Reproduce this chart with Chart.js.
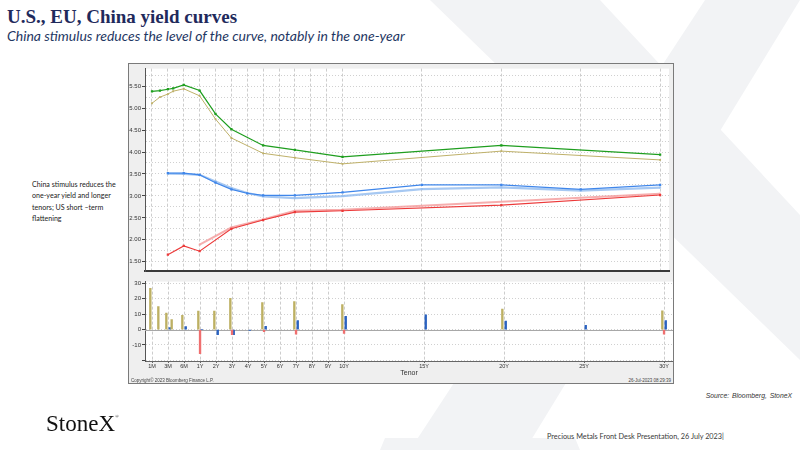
<!DOCTYPE html>
<html>
<head>
<meta charset="utf-8">
<script src="https://cdn.jsdelivr.net/npm/chart.js"></script>
<style>
html, body { margin: 0; padding: 0; width: 800px; height: 450px; overflow: hidden; background: #fff; }
.abs { position: absolute; white-space: nowrap; }
#wm { position: absolute; left: 0; top: 0; }
#title { left: 7px; top: 7px; font: bold 19px/19px "Liberation Serif", serif; color: #1f2a5c; }
#subtitle { left: 7px; top: 28.5px; font: italic 14px/14px Lato, sans-serif; color: #1f3864; }
#note { left: 32px; top: 179px; font: 7.1px/11.3px Lato, sans-serif; color: #222; }
#box { position: absolute; left: 128px; top: 63px; width: 544px; height: 319px; border: 1px solid #7a7a7a; background: #efefef; }
#box canvas { position: absolute; left: 0; }
#topChart { top: 0; }
#botChart { top: 213px; }
#copy { left: 2px; top: 314px; font: 4.5px "Liberation Sans", sans-serif; color: #444; }
#stamp { right: 2px; top: 314px; font: 4.5px "Liberation Sans", sans-serif; color: #444; }
#source { right: 8px; top: 392px; font: italic 6.8px "Liberation Sans", sans-serif; color: #333; word-spacing: 1px; }
#logo { left: 46px; top: 405px; font: 23px/23px "Liberation Serif", serif; color: #111; }
#logo sup { font-size: 5px; vertical-align: 13px; }
#footer { left: 547px; top: 432px; font: 7.3px Lato, sans-serif; color: #3a3a3a; }
</style>
</head>
<body>
<svg id="wm" width="800" height="450">
  <polygon points="430,0 600,0 800,215 800,360" fill="#f2f3f5"/>
  <polygon points="705,0 800,0 525,450 410,450" fill="#f2f3f5"/>
  <polygon points="385,438 575,438 580,450 380,450" fill="#f2f3f5"/>
</svg>
<div id="title" class="abs">U.S., EU, China yield curves</div>
<div id="subtitle" class="abs">China stimulus reduces the level of the curve, notably in the one-year</div>
<div id="note" class="abs">China stimulus reduces the<br>one-year yield and longer<br>tenors; US short –term<br>flattening</div>
<div id="box">
  <canvas id="topChart" width="544" height="212"></canvas>
  <canvas id="botChart" width="544" height="101"></canvas>
  <div id="copy" class="abs">Copyright© 2023 Bloomberg Finance L.P.</div>
  <div id="stamp" class="abs">26-Jul-2023 08:29:39</div>
</div>
<div id="source" class="abs">Source: Bloomberg, StoneX</div>
<div id="logo" class="abs">StoneX<sup>®</sup></div>
<div id="footer" class="abs">Precious Metals Front Desk Presentation, 26 July 2023|</div>

<script>
// Tenor axis labels (Bloomberg spacing: 1M, 3M, 6M, 1Y evenly, then one step per year)
const TICK_LABELS = ['1M', '3M', '6M', '1Y', '2Y', '3Y', '4Y', '5Y', '6Y', '7Y', '8Y', '9Y', '10Y', '15Y', '20Y', '25Y', '30Y'];

// U.S. Treasuries: current (green) and earlier (olive), change in bp
const US_TENORS = ['1M', '2M', '3M', '4M', '6M', '1Y', '2Y', '3Y', '5Y', '7Y', '10Y', '20Y', '30Y'];
const US_NOW = [5.38, 5.40, 5.43, 5.45, 5.53, 5.40, 4.87, 4.52, 4.15, 4.05, 3.89, 4.15, 3.94];
const US_PREV = [5.11, 5.25, 5.32, 5.385, 5.44, 5.28, 4.75, 4.32, 3.97, 3.87, 3.73, 4.02, 3.82];
const US_CHG = [26.9, 14.9, 10.8, 6.5, 9.2, 12.0, 12.0, 20.4, 17.6, 18.2, 16.3, 13.3, 12.2];

// EU curve: current (blue) and earlier (light blue)
const EU_TENORS = ['3M', '6M', '1Y', '2Y', '3Y', '4Y', '5Y', '7Y', '10Y', '15Y', '20Y', '25Y', '30Y'];
const EU_NOW = [3.52, 3.52, 3.48, 3.30, 3.15, 3.06, 3.01, 3.01, 3.08, 3.25, 3.25, 3.15, 3.25];
const EU_PREV = [3.505, 3.50, 3.48, 3.33, 3.18, 3.065, 2.99, 2.95, 2.995, 3.155, 3.195, 3.12, 3.19];
const EU_CHG = [1.4, 2.0, 0, -3.3, -3.3, -0.6, 2.2, 5.9, 8.6, 9.6, 5.5, 2.7, 5.9];

// China curve: current (red) and earlier (light red)
const CN_TENORS = ['3M', '6M', '1Y', '3Y', '5Y', '7Y', '10Y', '20Y', '30Y'];
const CN_NOW = [1.66, 1.86, 1.74, 2.25, 2.45, 2.63, 2.66, 2.79, 3.02];
const CN_PREV_TENORS = ['1Y', '3Y', '5Y', '7Y', '10Y', '30Y'];
const CN_PREV = [1.89, 2.28, 2.465, 2.66, 2.685, 3.05];
const CN_CHG = [-15.7, -3.3, -1.4, -3.0, -2.4, -3.0];

// y-axis ticks
const TOP_TICKS = [1.5, 1.75, 2, 2.25, 2.5, 2.75, 3, 3.25, 3.5, 3.75, 4, 4.25, 4.5, 4.75, 5, 5.25, 5.5, 5.75];
const TOP_LABELED = [1.5, 2, 2.5, 3, 3.5, 4, 4.5, 5, 5.5];
const BOT_TICKS = [-20, -15, -10, -5, 0, 5, 10, 15, 20, 25, 30];
const BOT_LABELED = [-10, 0, 10, 20, 30];
const BOT_MARKS = [-20, -10, 0, 10, 20, 30];

function tenorPos(t) {
    const n = parseFloat(t);
    if (t.endsWith('Y')) return n + 2;
    if (n <= 3) return (n - 1) / 2;
    if (n <= 6) return 1 + (n - 3) / 3;
    return 2 + (n - 6) / 6;
}

function pts(tenors, vals) {
    return tenors.map((t, i) => ({ x: tenorPos(t), y: vals[i] }));
}

const X_MIN = -0.44, X_MAX = 32.56;
const TICK_POS = TICK_LABELS.map(tenorPos);
const FONT = 'Liberation Sans';

// white plotting area on the grey Bloomberg panel
const whiteArea = {
    id: 'whiteArea',
    beforeDraw(chart) {
        const a = chart.chartArea;
        chart.ctx.save();
        chart.ctx.fillStyle = '#ffffff';
        chart.ctx.fillRect(a.left, a.top, a.right - a.left, a.bottom - a.top);
        chart.ctx.restore();
    }
};

const zeroLine = {
    id: 'zeroLine',
    beforeDatasetsDraw(chart) {
        const a = chart.chartArea;
        const y = Math.round(chart.scales.y.getPixelForValue(0)) + 0.5;
        const ctx = chart.ctx;
        ctx.save();
        ctx.strokeStyle = '#a8a8a8';
        ctx.lineWidth = 1;
        ctx.beginPath();
        ctx.moveTo(a.left, y);
        ctx.lineTo(a.right, y);
        ctx.stroke();
        ctx.restore();
    }
};

function line(data, color, width, radius) {
    return {
        data: data,
        borderColor: color,
        backgroundColor: color,
        borderWidth: width,
        pointStyle: 'rect',
        pointRadius: radius,
        pointBorderWidth: 0,
        pointBackgroundColor: color,
        tension: 0,
        fill: false
    };
}

const xGrid = {
    type: 'linear',
    min: X_MIN,
    max: X_MAX,
    offset: false,
    afterBuildTicks: s => { s.ticks = TICK_POS.map(v => ({ value: v })); }
};

const isIn = (list, v) => list.some(t => Math.abs(t - v) < 1e-6);

new Chart(document.getElementById('topChart'), {
    type: 'line',
    data: {
        datasets: [
            line(pts(US_TENORS, US_NOW), '#1f9e1f', 1.2, 1.6),
            line(pts(EU_TENORS, EU_NOW), '#3f86ea', 1.2, 1.6),
            line(pts(CN_TENORS, CN_NOW), '#ec3a3a', 1.1, 1.6),
            line(pts(US_TENORS, US_PREV), '#bfb16a', 1, 1.3),
            line(pts(EU_TENORS, EU_PREV), 'rgba(150,190,240,0.85)', 2.2, 1.4),
            line(pts(CN_PREV_TENORS, CN_PREV), 'rgba(244,160,160,0.85)', 2, 1.3)
        ]
    },
    options: {
        responsive: false,
        animation: false,
        layout: { padding: 0 },
        plugins: { legend: { display: false }, tooltip: { enabled: false } },
        scales: {
            x: Object.assign({}, xGrid, {
                afterFit: s => { s.height = 1; },
                ticks: { display: false },
                grid: { color: '#cdcdcd', drawTicks: false },
                border: { color: '#3a3a3a', width: 2, dash: [3, 2] }
            }),
            y: {
                min: 1.28,
                max: 5.90,
                afterBuildTicks: s => { s.ticks = TOP_TICKS.map(v => ({ value: v })); },
                afterFit: s => { s.width = 16; },
                ticks: {
                    font: { size: 6, family: FONT },
                    color: '#333',
                    padding: 1,
                    callback: v => isIn(TOP_LABELED, v) ? v.toFixed(2) : ''
                },
                grid: {
                    color: '#d0d0d0',
                    tickLength: 3,
                    tickColor: c => c.tick && isIn(TOP_LABELED, c.tick.value) ? '#444' : 'rgba(0,0,0,0)'
                },
                border: { color: '#555', width: 1, dash: [1, 2] }
            }
        }
    },
    plugins: [whiteArea]
});

function bars(data, color) {
    return {
        data: data,
        backgroundColor: color,
        borderWidth: 0,
        barThickness: 1.7
    };
}

new Chart(document.getElementById('botChart'), {
    type: 'bar',
    data: {
        datasets: [
            bars(pts(US_TENORS, US_CHG), '#bdb063'),
            bars(pts(CN_PREV_TENORS, CN_CHG), '#ef6f6f'),
            bars(pts(EU_TENORS, EU_CHG), '#2a62c0')
        ]
    },
    options: {
        responsive: false,
        animation: false,
        layout: { padding: 0 },
        plugins: { legend: { display: false }, tooltip: { enabled: false } },
        scales: {
            x: Object.assign({}, xGrid, {
                afterFit: s => { s.height = 17; },
                ticks: {
                    autoSkip: false,
                    maxRotation: 0,
                    font: { size: 5.5, family: FONT },
                    color: '#333',
                    padding: 0,
                    callback: (v, i) => TICK_LABELS[i]
                },
                grid: { offset: false, color: '#cdcdcd', tickLength: 2, tickColor: '#666' },
                border: { color: '#666', width: 1, dash: [3, 2] },
                title: {
                    display: true,
                    text: 'Tenor',
                    font: { size: 7, family: FONT },
                    color: '#333',
                    padding: { top: 0, bottom: 1 }
                }
            }),
            y: {
                min: -20.4,
                max: 31.2,
                afterBuildTicks: s => { s.ticks = BOT_TICKS.map(v => ({ value: v })); },
                afterFit: s => { s.width = 16; },
                ticks: {
                    font: { size: 6, family: FONT },
                    color: '#333',
                    padding: 1,
                    callback: v => isIn(BOT_LABELED, v) ? String(v) : ''
                },
                grid: {
                    color: '#d0d0d0',
                    tickLength: 3,
                    tickColor: c => c.tick && isIn(BOT_MARKS, c.tick.value) ? '#444' : 'rgba(0,0,0,0)'
                },
                border: { color: '#555', width: 1, dash: [1, 2] }
            }
        }
    },
    plugins: [whiteArea, zeroLine]
});
</script>
</body>
</html>
